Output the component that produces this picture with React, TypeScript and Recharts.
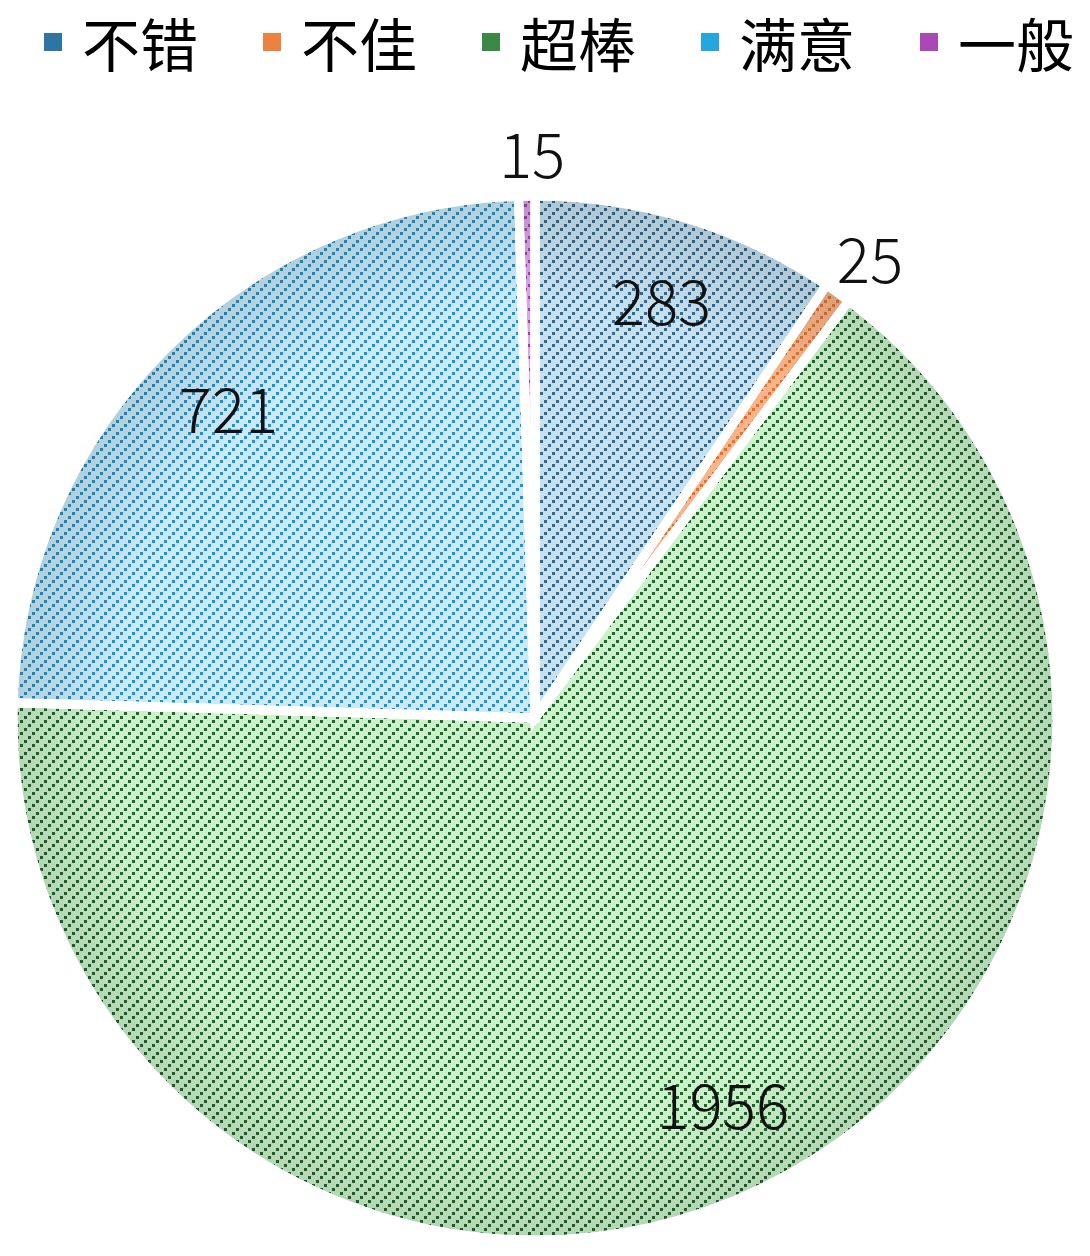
import React from "react";
import { PieChart, Pie, Cell, Legend } from "recharts";

// review counts per rating
const categories = ["不错", "不佳", "超棒", "满意", "一般"];
const counts = [283, 25, 1956, 721, 15];

const legendColors = ["#2e75a6", "#ee8040", "#3a8a45", "#24a6df", "#aa48b6"];
const lightColors = ["#c8e1ef", "#f8b488", "#ccf2cc", "#c8eafa", "#dba4e2"];
const dotColors = ["#2a6c99", "#e8702a", "#1b6a2a", "#1896d2", "#a040b0"];

const data = categories.map((name, i) => ({ name, value: counts[i] }));

const FONT = '"Noto Sans CJK SC", "Noto Sans", sans-serif';
const LEGEND_H = 84;
const CX = 535;
const CY = 718;
const R = 522;
const TILE = 12;

const renderLegend = () => (
    <div
        style={{
            height: LEGEND_H,
            display: "flex",
            alignItems: "center",
            justifyContent: "center",
            gap: 65,
            paddingLeft: 28,
        }}
    >
        {categories.map((c, i) => (
            <div key={c} style={{ display: "flex", alignItems: "center" }}>
                <span
                    style={{
                        display: "inline-block",
                        width: 18,
                        height: 18,
                        background: legendColors[i],
                        marginRight: 20,
                    }}
                />
                <span style={{ fontFamily: FONT, fontSize: 58, lineHeight: 1, color: "#000" }}>
                    {c}
                </span>
            </div>
        ))}
    </div>
);

const renderLabel = (props: any) => {
    const { cx, cy, midAngle, outerRadius, percent, value } = props;
    const rad = Math.PI / 180;
    const outside = percent < 0.05;
    const r = outside ? outerRadius + 45 : outerRadius * 0.83;
    const x = cx + r * Math.cos(-midAngle * rad);
    const y = cy + r * Math.sin(-midAngle * rad);
    return (
        <text
            x={outside ? x + 6 : x}
            y={outside ? y : y - 6}
            textAnchor="middle"
            dominantBaseline="central"
            fontFamily={FONT}
            fontWeight={300}
            fontSize={62}
            fill="#111"
        >
            {value}
        </text>
    );
};

export default function App() {
    return (
        <div style={{ position: "absolute", left: 0, top: 0, background: "#fff" }}>
            <PieChart width={1090} height={1256} margin={{ top: 0, right: 0, bottom: 0, left: 0 }}>
                <defs>
                    {categories.map((c, i) => (
                        <pattern
                            key={c}
                            id={`hatch${i}`}
                            width={TILE}
                            height={TILE}
                            patternUnits="userSpaceOnUse"
                        >
                            <rect width={TILE} height={TILE} fill={lightColors[i]} />
                            {[0, 1, 2].map((k) => (
                                <rect
                                    key={k}
                                    x={k * 4}
                                    y={TILE - (k + 1) * 4}
                                    width={3}
                                    height={3}
                                    fill={dotColors[i]}
                                />
                            ))}
                        </pattern>
                    ))}
                    <radialGradient id="edgeShade" gradientUnits="userSpaceOnUse" cx={CX} cy={CY} r={R}>
                        <stop offset="0.8" stopColor="#000" stopOpacity={0} />
                        <stop offset="1" stopColor="#000" stopOpacity={0.12} />
                    </radialGradient>
                </defs>
                <Legend
                    verticalAlign="top"
                    align="center"
                    content={renderLegend}
                    wrapperStyle={{ top: 0, left: 0, width: 1090 }}
                />
                <Pie
                    data={data}
                    dataKey="value"
                    nameKey="name"
                    cx={CX}
                    cy={CY - LEGEND_H}
                    outerRadius={R}
                    startAngle={90}
                    endAngle={-270}
                    stroke="#fff"
                    strokeWidth={9}
                    labelLine={false}
                    isAnimationActive={false}
                >
                    {data.map((d, i) => (
                        <Cell key={d.name} fill={`url(#hatch${i})`} />
                    ))}
                </Pie>
                <Pie
                    data={data}
                    dataKey="value"
                    nameKey="name"
                    cx={CX}
                    cy={CY - LEGEND_H}
                    outerRadius={R}
                    startAngle={90}
                    endAngle={-270}
                    fill="url(#edgeShade)"
                    stroke="#fff"
                    strokeWidth={9}
                    label={renderLabel}
                    labelLine={false}
                    legendType="none"
                    isAnimationActive={false}
                />
            </PieChart>
        </div>
    );
}
